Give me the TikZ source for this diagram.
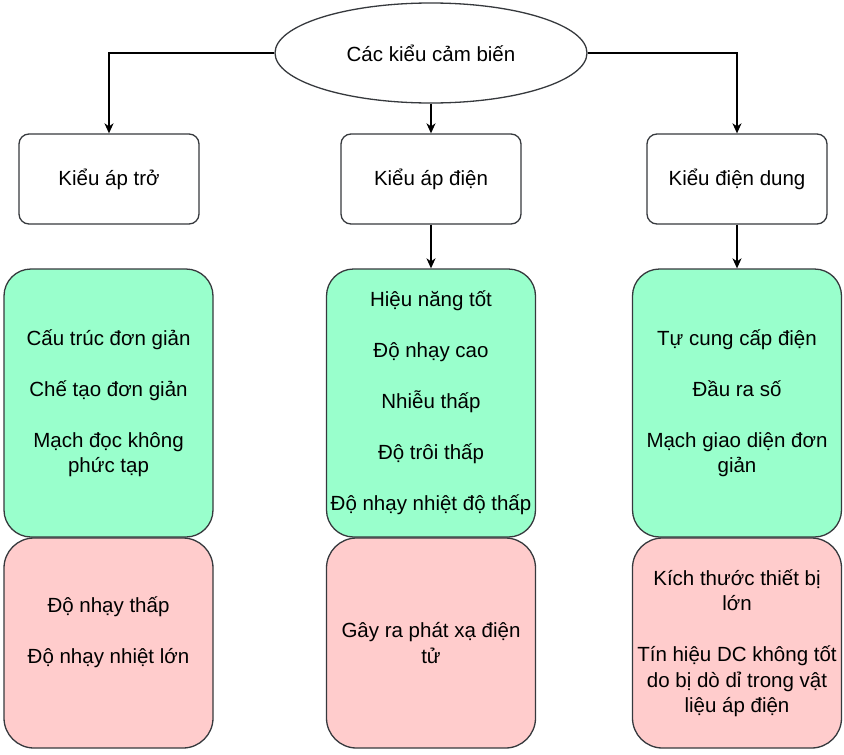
\documentclass[tikz,border=0pt]{standalone}
\usepackage{fontspec}
\setmainfont{Liberation Sans}
\usetikzlibrary{shapes.geometric,arrows.meta}
\definecolor{gfill}{HTML}{99FFCC}
\definecolor{rfill}{HTML}{FFCCCC}
\definecolor{edgec}{HTML}{36393D}
\begin{document}
\begin{tikzpicture}[x=1pt,y=-1pt,
  every node/.style={font=\fontsize{20.5}{25.5}\selectfont, align=center, inner sep=0pt, text=black},
  rootnode/.style={ellipse, draw=edgec, line width=1.3pt, fill=white, minimum width=312pt, minimum height=100pt},
  topbox/.style={draw=edgec, line width=1.3pt, fill=white, rounded corners=10pt, minimum width=180pt, minimum height=90pt},
  goodbox/.style={draw=edgec, line width=1.3pt, fill=gfill, rounded corners=27pt, minimum width=209pt, minimum height=268pt},
  badbox/.style={draw=edgec, line width=1.3pt, fill=rfill, rounded corners=30pt, minimum width=209pt, minimum height=210pt},
  conn/.style={draw=black, line width=1.3pt, -{Stealth[length=10pt,width=9pt,inset=3pt]}}]
\useasboundingbox (0,0) rectangle (844,755);

\node[rootnode] (root) at (431,53) {Các kiểu cảm biến};

\node[topbox] (b1) at (109,179) {Kiểu áp trở};
\node[topbox] (b2) at (431,179) {Kiểu áp điện};
\node[topbox] (b3) at (737,179) {Kiểu điện dung};

\node[goodbox] (g1) at (108.5,403) {Cấu trúc đơn giản\\[25.5pt]Chế tạo đơn giản\\[25.5pt]Mạch đọc không\\phức tạp};
\node[goodbox] (g2) at (431,403) {Hiệu năng tốt\\[25.5pt]Độ nhạy cao\\[25.5pt]Nhiễu thấp\\[25.5pt]Độ trôi thấp\\[25.5pt]Độ nhạy nhiệt độ thấp};
\node[goodbox] (g3) at (737,403) {Tự cung cấp điện\\[25.5pt]Đầu ra số\\[25.5pt]Mạch giao diện đơn\\giản};

\node[badbox] (r1) at (108.5,643) {Độ nhạy thấp\\[25.5pt]Độ nhạy nhiệt lớn\\\mbox{}};
\node[badbox] (r2) at (431,643) {Gây ra phát xạ điện\\tử};
\node[badbox] (r3) at (737,643) {Kích thước thiết bị\\lớn\\[25.5pt]Tín hiệu DC không tốt\\do bị dò dỉ trong vật\\liệu áp điện};

\draw[conn] (root.west) -| (b1.north);
\draw[conn] (root.south) -- (b2.north);
\draw[conn] (root.east) -| (b3.north);
\draw[conn] (b2.south) -- (g2.north);
\draw[conn] (b3.south) -- (g3.north);
\end{tikzpicture}
\end{document}
